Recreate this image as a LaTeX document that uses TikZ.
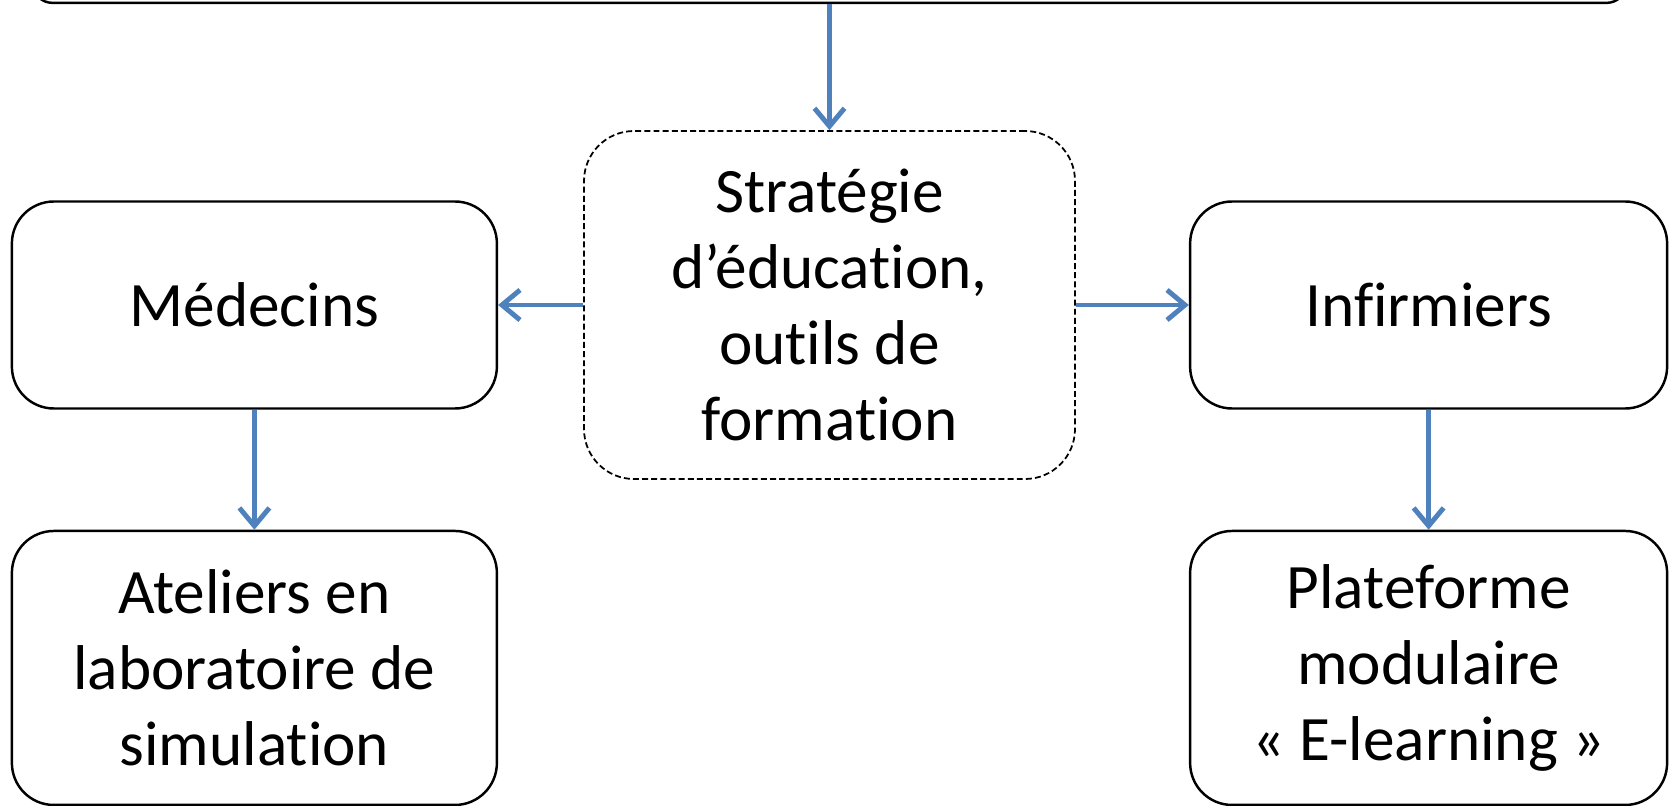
\documentclass[tikz,border=0pt]{standalone}
\usepackage{fontspec}
\setmainfont{Carlito}[Ligatures={NoCommon}]
\usepackage{tikz}
\usetikzlibrary{positioning, arrows.meta}
\definecolor{arrowblue}{HTML}{4F81BD}

\begin{document}
\begin{tikzpicture}[
    box/.style={rectangle, rounded corners=0.42cm, draw, line width=0.7pt, align=center, fill=white, font=\fontsize{18}{21.7}\selectfont},
    strategy/.style={box, rounded corners=0.5cm, line width=0.5pt, dash pattern=on 1.7pt off 0.9pt},
    arrow/.style={-{Straight Barb[length=1.8mm, width=3mm]}, line width=1.4pt, arrowblue}
]
    \useasboundingbox (0,0) rectangle (16.69,8.05);

    \node[strategy, minimum width=4.91cm, minimum height=3.48cm] (strat) at (8.295,5.0) {Stratégie\\d’éducation,\\outils de\\formation};
    \node[box, rounded corners=0.2cm, minimum width=15.94cm, minimum height=1.5cm, above=1.26cm of strat] (top) {};
    \node[box, minimum width=4.85cm, minimum height=2.07cm, left=0.85cm of strat] (med) {Médecins};
    \node[box, minimum width=4.77cm, minimum height=2.07cm, right=1.13cm of strat] (inf) {Infirmiers};
    \node[box, minimum width=4.85cm, minimum height=2.74cm, below=1.2cm of med] (atel) {Ateliers en\\laboratoire de\\simulation};
    \node[box, minimum width=4.77cm, minimum height=2.74cm, below=1.2cm of inf] (plat) {Plateforme\\modulaire\\« E-learning »};

    \draw[arrow] (top) -- (strat);
    \draw[arrow] (strat) -- (med);
    \draw[arrow] (strat) -- (inf);
    \draw[arrow] (med) -- (atel);
    \draw[arrow] (inf) -- (plat);
\end{tikzpicture}
\end{document}
